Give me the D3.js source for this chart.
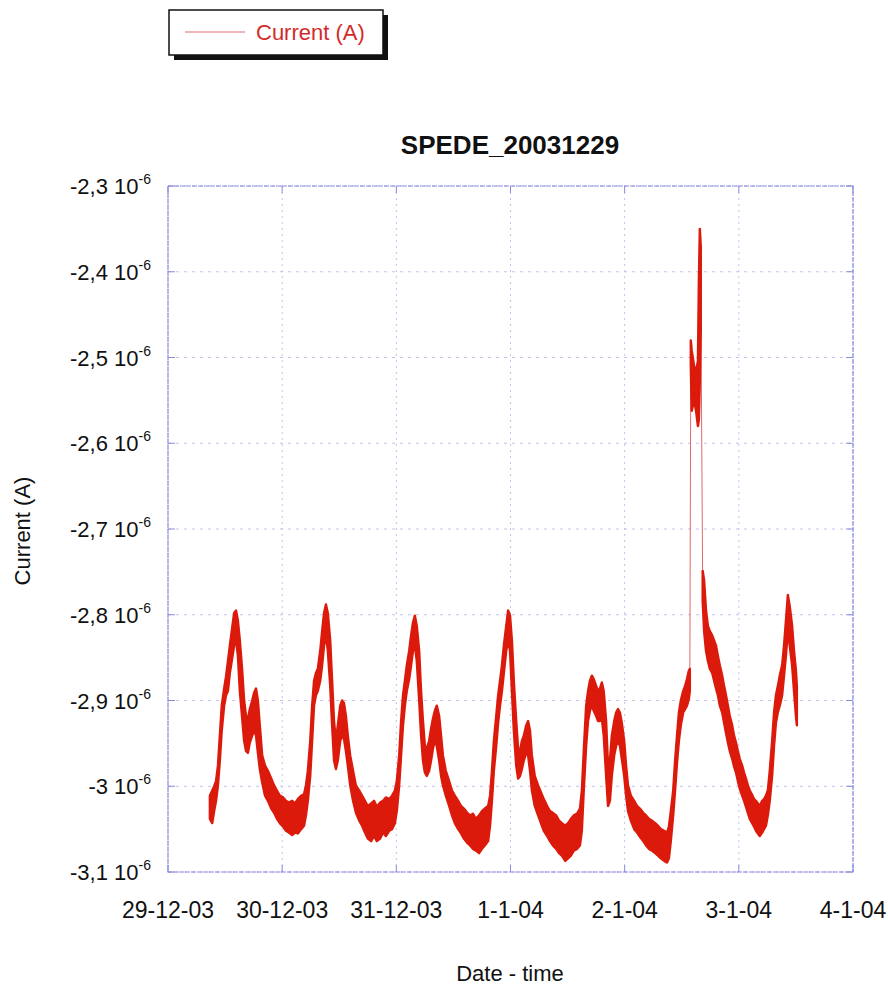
<!DOCTYPE html>
<html>
<head>
<meta charset="utf-8">
<script src="https://cdn.jsdelivr.net/npm/d3@7"></script>
<style>
  html, body { margin: 0; padding: 0; background: #fff; }
  svg { display: block; font-family: "Liberation Sans", Arial, Helvetica, sans-serif; }
</style>
</head>
<body>
<svg id="chart" width="888" height="989"></svg>
<script>
// ---------------- DATA ----------------
const title = "SPEDE_20031229";
const seriesName = "Current (A)";
const xAxisTitle = "Date - time";
const yAxisTitle = "Current (A)";
const startDate = Date.UTC(2003, 11, 29); // 29-12-03 00:00
// hours since 29-12-03 00:00
const hours = [
  8.8, 9.3, 9.7, 10.1, 10.5, 10.9, 11.3, 11.8, 12.2, 12.6, 13.0, 13.4, 13.9, 14.3, 14.7, 15.1, 15.6, 16.0, 16.4, 16.8,
  17.2, 17.7, 18.1, 18.5, 18.9, 19.3, 19.8, 20.4, 21.0, 21.7, 22.3, 22.9, 23.5, 24.2, 24.8, 25.4, 26.1, 26.7, 27.3, 28.0,
  28.6, 29.0, 29.4, 29.9, 30.3, 30.7, 31.1, 31.5, 32.0, 32.4, 32.8, 33.2, 33.6, 34.1, 34.5, 34.9, 35.3, 35.7, 36.2, 36.6,
  37.0, 37.4, 37.8, 38.3, 38.9, 39.5, 40.2, 40.8, 41.4, 42.0, 42.7, 43.3, 43.9, 44.6, 45.2, 45.8, 46.5, 47.1, 47.7, 48.1,
  48.6, 49.0, 49.4, 49.8, 50.2, 50.7, 51.1, 51.5, 51.9, 52.3, 52.8, 53.2, 53.6, 54.0, 54.4, 54.9, 55.3, 55.7, 56.1, 56.5,
  57.0, 57.4, 57.8, 58.4, 59.1, 59.7, 60.3, 61.0, 61.6, 62.2, 62.9, 63.5, 64.1, 64.7, 65.4, 66.0, 66.6, 67.3, 67.7, 68.1,
  68.5, 69.0, 69.4, 69.8, 70.2, 70.6, 71.1, 71.5, 71.9, 72.3, 72.7, 73.2, 73.6, 74.0, 74.4, 74.8, 75.3, 75.7, 76.1, 76.5,
  77.1, 77.8, 78.4, 79.0, 79.7, 80.3, 80.9, 81.6, 82.2, 82.8, 83.5, 84.1, 84.7, 85.3, 86.0, 86.6, 87.0, 87.4, 87.9, 88.3,
  88.7, 89.1, 89.5, 90.0, 90.4, 90.8, 91.2, 91.6, 92.1, 92.5, 92.9, 93.3, 93.8, 94.2, 94.6, 95.0, 95.4, 95.9, 96.3, 96.7,
  97.3, 98.0, 98.6, 99.2, 99.9, 100.5, 101.1, 101.7, 102.4, 103.0, 103.6, 104.3, 104.9, 105.3, 105.7, 106.2, 106.6, 107.0, 107.4, 107.8,
  108.3, 108.7, 109.1, 109.5, 109.7,
  109.9, 110.1, 110.6, 111.0, 111.4, 111.6, 111.8, 112.0,
  112.4, 112.7, 113.1, 113.5, 113.9, 114.4, 114.8, 115.2, 115.6, 116.0, 116.5, 116.9, 117.3, 117.7, 118.1, 118.6, 119.0, 119.4,
  119.8, 120.2, 120.7, 121.1, 121.5, 121.9, 122.3, 122.8, 123.2, 123.6, 124.0, 124.4, 124.9, 125.3, 125.7, 126.1, 126.5, 127.0,
  127.4, 127.8, 128.2, 128.6, 129.1, 129.5, 129.9, 130.3, 130.7, 131.2, 131.6, 132.0, 132.2
];
// upper edge of the noisy trace (units of 1e-6 A)
const upper = [
  -3.011, -3.005, -3.000, -2.994, -2.976, -2.941, -2.906, -2.886, -2.872, -2.854, -2.836, -2.819, -2.798, -2.795, -2.807, -2.830, -2.865, -2.900, -2.918, -2.921,
  -2.910, -2.900, -2.891, -2.886, -2.900, -2.929, -2.964, -2.976, -2.982, -2.991, -2.999, -3.005, -3.011, -3.013, -3.017, -3.019, -3.017, -3.020, -3.015, -3.011,
  -3.009, -2.999, -2.982, -2.947, -2.906, -2.877, -2.868, -2.863, -2.842, -2.819, -2.798, -2.788, -2.798, -2.830, -2.877, -2.924, -2.947, -2.929, -2.906, -2.900,
  -2.903, -2.918, -2.941, -2.964, -2.982, -2.999, -3.005, -3.011, -3.017, -3.023, -3.020, -3.017, -3.024, -3.019, -3.017, -3.013, -3.015, -3.011, -3.005, -2.994,
  -2.964, -2.924, -2.894, -2.877, -2.859, -2.842, -2.824, -2.809, -2.801, -2.813, -2.842, -2.889, -2.924, -2.953, -2.956, -2.947, -2.933, -2.921, -2.912, -2.906,
  -2.918, -2.941, -2.964, -2.982, -2.994, -3.005, -3.011, -3.017, -3.023, -3.026, -3.031, -3.034, -3.032, -3.038, -3.034, -3.029, -3.026, -3.023, -3.011, -2.982,
  -2.947, -2.918, -2.894, -2.877, -2.859, -2.836, -2.813, -2.795, -2.801, -2.830, -2.877, -2.924, -2.956, -2.959, -2.947, -2.941, -2.929, -2.924, -2.935, -2.964,
  -2.988, -2.999, -3.007, -3.015, -3.023, -3.029, -3.031, -3.034, -3.040, -3.043, -3.046, -3.043, -3.038, -3.034, -3.032, -3.026, -3.005, -2.959, -2.906, -2.889,
  -2.877, -2.871, -2.875, -2.883, -2.889, -2.886, -2.879, -2.889, -2.924, -2.976, -2.970, -2.941, -2.924, -2.914, -2.910, -2.914, -2.926, -2.947, -2.976, -2.999,
  -3.011, -3.017, -3.023, -3.026, -3.031, -3.034, -3.038, -3.040, -3.043, -3.046, -3.050, -3.052, -3.054, -3.047, -3.029, -3.005, -2.970, -2.941, -2.914, -2.900,
  -2.889, -2.883, -2.875, -2.865, -2.863,
  -2.480, -2.492, -2.510, -2.516, -2.504, -2.411, -2.350, -2.370,
  -2.749, -2.760, -2.795, -2.813, -2.819, -2.824, -2.830, -2.836, -2.848, -2.859, -2.871, -2.883, -2.894, -2.906, -2.918, -2.929, -2.941, -2.949,
  -2.959, -2.968, -2.976, -2.984, -2.991, -2.999, -3.005, -3.010, -3.015, -3.017, -3.020, -3.023, -3.017, -3.015, -3.011, -3.005, -2.982, -2.947,
  -2.914, -2.894, -2.883, -2.871, -2.859, -2.836, -2.807, -2.777, -2.790, -2.813, -2.842, -2.865, -2.883
];
// lower edge of the noisy trace (units of 1e-6 A)
const lower = [
  -3.038, -3.043, -3.029, -3.017, -2.999, -2.970, -2.935, -2.906, -2.894, -2.889, -2.868, -2.854, -2.836, -2.830, -2.848, -2.889, -2.921, -2.947, -2.959, -2.961,
  -2.949, -2.941, -2.935, -2.941, -2.961, -2.980, -2.996, -3.011, -3.017, -3.026, -3.031, -3.038, -3.043, -3.047, -3.052, -3.054, -3.057, -3.054, -3.055, -3.050,
  -3.046, -3.034, -3.017, -2.988, -2.947, -2.906, -2.894, -2.889, -2.877, -2.859, -2.836, -2.824, -2.842, -2.883, -2.929, -2.970, -2.980, -2.970, -2.947, -2.941,
  -2.945, -2.959, -2.976, -2.999, -3.017, -3.031, -3.040, -3.046, -3.054, -3.061, -3.064, -3.058, -3.064, -3.061, -3.054, -3.058, -3.052, -3.050, -3.043, -3.029,
  -2.999, -2.964, -2.929, -2.906, -2.889, -2.875, -2.859, -2.842, -2.836, -2.854, -2.900, -2.941, -2.970, -2.984, -2.988, -2.982, -2.970, -2.956, -2.947, -2.953,
  -2.970, -2.988, -2.999, -3.011, -3.023, -3.034, -3.043, -3.050, -3.055, -3.061, -3.066, -3.069, -3.073, -3.075, -3.078, -3.073, -3.069, -3.064, -3.046, -3.017,
  -2.982, -2.953, -2.926, -2.906, -2.889, -2.868, -2.842, -2.830, -2.842, -2.889, -2.935, -2.976, -2.991, -2.988, -2.980, -2.970, -2.961, -2.964, -2.982, -3.005,
  -3.023, -3.034, -3.043, -3.052, -3.058, -3.064, -3.069, -3.073, -3.078, -3.081, -3.087, -3.084, -3.081, -3.075, -3.073, -3.069, -3.052, -3.005, -2.953, -2.924,
  -2.912, -2.906, -2.912, -2.918, -2.924, -2.924, -2.921, -2.941, -2.988, -3.023, -3.017, -2.988, -2.964, -2.953, -2.947, -2.953, -2.968, -2.988, -3.011, -3.029,
  -3.040, -3.050, -3.054, -3.059, -3.064, -3.069, -3.073, -3.075, -3.078, -3.081, -3.084, -3.087, -3.089, -3.084, -3.064, -3.034, -3.005, -2.973, -2.947, -2.929,
  -2.914, -2.910, -2.906, -2.898, -2.889,
  -2.510, -2.562, -2.550, -2.562, -2.580, -2.573, -2.527, -2.469,
  -2.784, -2.819, -2.842, -2.854, -2.863, -2.868, -2.877, -2.886, -2.894, -2.906, -2.914, -2.926, -2.938, -2.949, -2.959, -2.968, -2.977, -2.984,
  -2.994, -3.003, -3.011, -3.017, -3.024, -3.031, -3.038, -3.043, -3.047, -3.052, -3.055, -3.058, -3.054, -3.050, -3.046, -3.034, -3.017, -2.988,
  -2.953, -2.926, -2.914, -2.906, -2.894, -2.871, -2.848, -2.819, -2.836, -2.859, -2.889, -2.918, -2.929
];
// abrupt jumps of the trace (hours), drawn as a thin connecting line
const jumpHours = [109.8, 112.2];
const yTicks = [-3.1, -3.0, -2.9, -2.8, -2.7, -2.6, -2.5, -2.4, -2.3];
const xTickDays = [0, 1, 2, 3, 4, 5, 6];
const yExponent = "-6";

// ---------------- LAYOUT ----------------
const svg = d3.select("#chart");
const M = { left: 168, right: 853, top: 186, bottom: 872 };
const x = d3.scaleUtc()
  .domain([new Date(startDate), new Date(startDate + 6 * 86400000)])
  .range([M.left, M.right]);
const y = d3.scaleLinear().domain([-3.1, -2.3]).range([M.bottom, M.top]);

const data = hours.map((h, i) => ({
  t: new Date(startDate + h * 3600000),
  hi: upper[i],
  lo: lower[i],
  seg: jumpHours.filter(j => h > j).length
}));

const gridColor = "#c2c2ee";
const frameColor = "#8a8ade";

// grid
const g = svg.append("g");
const xTicks = xTickDays.map(d => new Date(startDate + d * 86400000));
g.selectAll(".vg").data(xTicks).join("line")
  .attr("x1", d => x(d)).attr("x2", d => x(d))
  .attr("y1", M.top).attr("y2", M.bottom)
  .attr("stroke", gridColor).attr("stroke-width", 1).attr("stroke-dasharray", "2,4");
g.selectAll(".hg").data(yTicks).join("line")
  .attr("x1", M.left).attr("x2", M.right)
  .attr("y1", d => y(d)).attr("y2", d => y(d))
  .attr("stroke", gridColor).attr("stroke-width", 1).attr("stroke-dasharray", "3,5");

// frame
svg.append("rect")
  .attr("x", M.left).attr("y", M.top)
  .attr("width", M.right - M.left).attr("height", M.bottom - M.top)
  .attr("fill", "none").attr("stroke", frameColor).attr("stroke-width", 1.2)
  .attr("stroke-dasharray", "5,1");

// inner tick marks
const tk = 7;
g.selectAll(".tl").data(yTicks).join("line")
  .attr("x1", M.left).attr("x2", M.left + tk)
  .attr("y1", d => y(d)).attr("y2", d => y(d))
  .attr("stroke", frameColor).attr("stroke-width", 1);
g.selectAll(".tr").data(yTicks).join("line")
  .attr("x1", M.right - tk).attr("x2", M.right)
  .attr("y1", d => y(d)).attr("y2", d => y(d))
  .attr("stroke", frameColor).attr("stroke-width", 1);
g.selectAll(".tb").data(xTicks).join("line")
  .attr("x1", d => x(d)).attr("x2", d => x(d))
  .attr("y1", M.bottom - tk).attr("y2", M.bottom)
  .attr("stroke", frameColor).attr("stroke-width", 1);
g.selectAll(".tt").data(xTicks).join("line")
  .attr("x1", d => x(d)).attr("x2", d => x(d))
  .attr("y1", M.top).attr("y2", M.top + tk)
  .attr("stroke", frameColor).attr("stroke-width", 1);

// y tick labels
const fmtNum = d => d3.format(".1f")(d).replace("\u2212", "-").replace(/\.0$/, "").replace(".", ",");
const yl = svg.append("g").selectAll("text").data(yTicks).join("text")
  .attr("x", 151).attr("y", d => y(d) + 8)
  .attr("text-anchor", "end").attr("font-size", 22).attr("fill", "#111");
yl.append("tspan").text(d => fmtNum(d) + " 10");
yl.append("tspan").attr("dy", -10).attr("font-size", 14).text(yExponent);

// x tick labels
const fmtDate = d3.utcFormat("%-d-%-m-%y");
svg.append("g").selectAll("text").data(xTicks).join("text")
  .attr("x", d => x(d)).attr("y", 918)
  .attr("text-anchor", "middle").attr("font-size", 23).attr("fill", "#111")
  .text(d => fmtDate(d));

// titles
svg.append("text").attr("x", 510).attr("y", 154).attr("text-anchor", "middle")
  .attr("font-size", 26).attr("font-weight", "bold").attr("fill", "#111").text(title);
svg.append("text").attr("x", 510).attr("y", 981).attr("text-anchor", "middle")
  .attr("font-size", 22).attr("fill", "#111").text(xAxisTitle);
svg.append("text").attr("transform", "translate(30,531) rotate(-90)")
  .attr("text-anchor", "middle").attr("font-size", 22).attr("fill", "#111").text(yAxisTitle);

// series
const red = "#dc1a0c";
const plot = svg.append("g");
plot.append("path").datum(data)
  .attr("fill", "none").attr("stroke", "#e06a6a").attr("stroke-width", 1)
  .attr("d", d3.line().x(d => x(d.t)).y(d => y((d.hi + d.lo) / 2)));
const segs = d3.groups(data, d => d.seg).map(e => e[1]);
const area = d3.area().x(d => x(d.t)).y0(d => y(d.lo)).y1(d => y(d.hi));
plot.selectAll(".band").data(segs).join("path")
  .attr("fill", red).attr("stroke", red).attr("stroke-width", 2.4).attr("stroke-linejoin", "round")
  .attr("d", area);

// legend
const lg = svg.append("g");
lg.append("rect").attr("x", 174).attr("y", 15).attr("width", 214).attr("height", 45).attr("fill", "#111");
lg.append("rect").attr("x", 169).attr("y", 10).attr("width", 214).attr("height", 45)
  .attr("fill", "#fff").attr("stroke", "#111").attr("stroke-width", 1.5);
lg.append("line").attr("x1", 185).attr("x2", 245).attr("y1", 32).attr("y2", 32)
  .attr("stroke", "#e06a6a").attr("stroke-width", 1);
lg.append("text").attr("x", 256).attr("y", 40).attr("font-size", 22).attr("fill", "#d42a2a").text(seriesName);
</script>
</body>
</html>
